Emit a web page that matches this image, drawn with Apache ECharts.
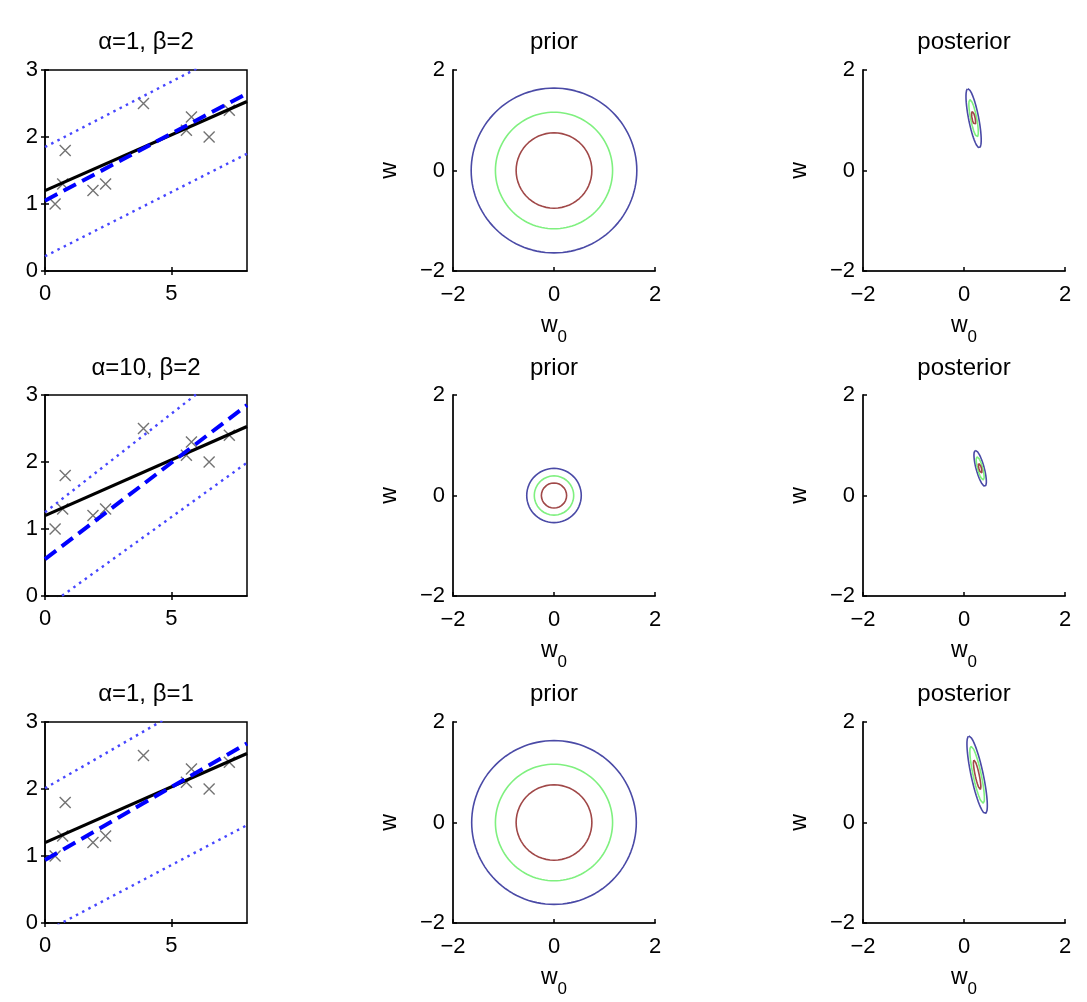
<!DOCTYPE html>
<html><head><meta charset="utf-8">
<script src="https://cdn.jsdelivr.net/npm/echarts@6/dist/echarts.min.js"></script>
<style>html,body{margin:0;padding:0;background:#fff}#c{width:1087px;height:1002px}</style>
</head><body><div id="c"></div>
<script>
// ---- data ----
const rowTitles = ['α=1, β=2', 'α=10, β=2', 'α=1, β=1'];
const colTitles = ['prior', 'posterior'];
const dataX = [0.4, 0.7, 0.8, 1.9, 2.4, 3.9, 5.6, 5.8, 6.5, 7.3];
const dataY = [1.0, 1.3, 1.8, 1.2, 1.3, 2.5, 2.1, 2.3, 2.0, 2.4];
const lineX = [0, 8];
const trueLineY = [1.2, 2.53];
const meanY  = [[1.05, 2.65], [0.55, 2.85], [0.94, 2.68]];
const upperY = [[1.85, 3.41], [1.25, 3.60], [2.01, 3.75]];
const lowerY = [[0.22, 1.75], [-0.18, 1.99], [-0.13, 1.46]];
const fitXTicks = [0, 5];
const fitYTicks = [0, 1, 2, 3];
const wTicks = [-2, 0, 2];
// prior contour radii (outer blue, green, inner brown) per row
const priorRadii = [[1.64, 1.16, 0.75], [0.54, 0.39, 0.25], [1.63, 1.16, 0.75]];
// posterior contour ellipses per row: centre, semi-major, semi-minor, tilt from vertical (deg)
const postCenter = [[0.19, 1.04], [0.32, 0.54], [0.26, 0.95]];
const postMajor  = [[0.60, 0.38, 0.14], [0.37, 0.24, 0.10], [0.79, 0.58, 0.30]];
const postMinor  = [[0.10, 0.06, 0.03], [0.08, 0.05, 0.025], [0.12, 0.08, 0.04]];
const postTilt   = [11, 15, 12];
const contourColors = ['#4a4aa6', '#7ff07f', '#a04848'];

// ---- layout ----
const FONT = '"Liberation Sans", Arial, sans-serif';
const colLeft = [45, 453, 863];
const rowTop = [70, 395, 722];
const W = 202, H = 201;
const titleTop = [30, 356, 682];

const grids = [], xAxes = [], yAxes = [], series = [], titles = [];
const tickStyle = {show: true, inside: true, length: 4, lineStyle: {color: '#000', width: 1.5}};
const labelBase = {color: '#000', fontSize: 22, fontFamily: FONT};
const minus = v => String(v).replace('-', '\u2212');

function ellipse(cx, cy, a, b, tiltDeg) {
  const th = tiltDeg * Math.PI / 180, pts = [];
  const dx = -Math.sin(th), dy = Math.cos(th), mx = Math.cos(th), my = Math.sin(th);
  for (let i = 0; i <= 120; i++) {
    const t = i / 120 * 2 * Math.PI;
    const u = a * Math.cos(t), v = b * Math.sin(t);
    pts.push([cx + u * dx + v * mx, cy + u * dy + v * my]);
  }
  return pts;
}

for (let r = 0; r < 3; r++) {
  for (let c = 0; c < 3; c++) {
    const g = r * 3 + c;
    grids.push({left: colLeft[c], top: rowTop[r], width: W, height: H,
      show: c === 0, borderColor: '#000', borderWidth: 1.5, backgroundColor: 'transparent'});
    titles.push({text: c === 0 ? rowTitles[r] : colTitles[c - 1], left: colLeft[c] + W / 2, top: titleTop[r],
      textAlign: 'center', padding: 0,
      textStyle: {fontSize: 24, fontWeight: 'normal', color: '#000', fontFamily: FONT}});
    if (c === 0) {
      xAxes.push({gridIndex: g, type: 'value', min: 0, max: 8,
        axisLine: {show: true, onZero: false, lineStyle: {color: '#000', width: 1.5}},
        axisTick: Object.assign({customValues: fitXTicks}, tickStyle),
        axisLabel: Object.assign({customValues: fitXTicks, margin: 12}, labelBase),
        splitLine: {show: false}});
      yAxes.push({gridIndex: g, type: 'value', min: 0, max: 3,
        axisLine: {show: true, onZero: false, lineStyle: {color: '#000', width: 1.5}},
        axisTick: Object.assign({customValues: fitYTicks}, tickStyle),
        axisLabel: Object.assign({customValues: fitYTicks, margin: 7}, labelBase),
        splitLine: {show: false}});
      series.push({type: 'scatter', xAxisIndex: g, yAxisIndex: g,
        data: dataX.map((x, i) => [x, dataY[i]]),
        symbol: 'path://M0,0L10,10M10,0L0,10', symbolSize: 11,
        itemStyle: {color: 'none', borderColor: '#505050', borderWidth: 1.4}, z: 1});
      const mk = (ys, style) => ({type: 'line', xAxisIndex: g, yAxisIndex: g, showSymbol: false, symbol: 'none',
        data: lineX.map((x, i) => [x, ys[i]]), lineStyle: style, clip: true, z: 2});
      series.push(mk(trueLineY, {color: '#000', width: 3.2, type: 'solid'}));
      series.push(mk(meanY[r], {color: '#0000ff', width: 4, type: [14, 7]}));
      series.push(mk(upperY[r], {color: '#4646ff', width: 2.4, type: [2.5, 4.5]}));
      series.push(mk(lowerY[r], {color: '#4646ff', width: 2.4, type: [2.5, 4.5]}));
    } else {
      xAxes.push({gridIndex: g, type: 'value', min: -2, max: 2,
        name: '{a|w}{b|0}', nameLocation: 'middle', nameGap: 34,
        nameTextStyle: {color: '#000', fontFamily: FONT, rich: {
          a: {fontSize: 23, color: '#000', fontFamily: FONT},
          b: {fontSize: 17, color: '#000', fontFamily: FONT, padding: [24, 0, 0, 0]}}},
        axisLine: {show: true, onZero: false, lineStyle: {color: '#222', width: 2}},
        axisTick: Object.assign({customValues: wTicks}, tickStyle),
        axisLabel: Object.assign({customValues: wTicks, margin: 13, formatter: minus}, labelBase),
        splitLine: {show: false}});
      yAxes.push({gridIndex: g, type: 'value', min: -2, max: 2,
        name: 'w', nameLocation: 'middle', nameRotate: 90, nameGap: 52,
        nameTextStyle: {fontSize: 23, color: '#000', fontFamily: FONT},
        axisLine: {show: true, onZero: false, lineStyle: {color: '#222', width: 2}},
        axisTick: Object.assign({customValues: wTicks}, tickStyle),
        axisLabel: Object.assign({customValues: wTicks, margin: 8, formatter: minus}, labelBase),
        splitLine: {show: false}});
      for (let k = 0; k < 3; k++) {
        const pts = c === 1
          ? ellipse(0, 0, priorRadii[r][k], priorRadii[r][k], 0)
          : ellipse(postCenter[r][0], postCenter[r][1], postMajor[r][k], postMinor[r][k], postTilt[r]);
        series.push({type: 'line', xAxisIndex: g, yAxisIndex: g, showSymbol: false, symbol: 'none',
          data: pts, lineStyle: {color: contourColors[k], width: 1.6}, z: 2});
      }
    }
  }
}
// extra top / right axes for the boxed left plots (ticks only)
for (let r = 0; r < 3; r++) {
  const g = r * 3;
  xAxes.push({gridIndex: g, type: 'value', position: 'top', min: 0, max: 8,
    axisLine: {show: false}, axisTick: Object.assign({customValues: fitXTicks}, tickStyle),
    axisLabel: {show: false}, splitLine: {show: false}});
  yAxes.push({gridIndex: g, type: 'value', position: 'right', min: 0, max: 3,
    axisLine: {show: false}, axisTick: Object.assign({customValues: fitYTicks}, tickStyle),
    axisLabel: {show: false}, splitLine: {show: false}});
}

const chart = echarts.init(document.getElementById('c'), null, {renderer: 'canvas'});
chart.setOption({animation: false, backgroundColor: '#fff', title: titles,
  grid: grids, xAxis: xAxes, yAxis: yAxes, series: series});
</script></body></html>
